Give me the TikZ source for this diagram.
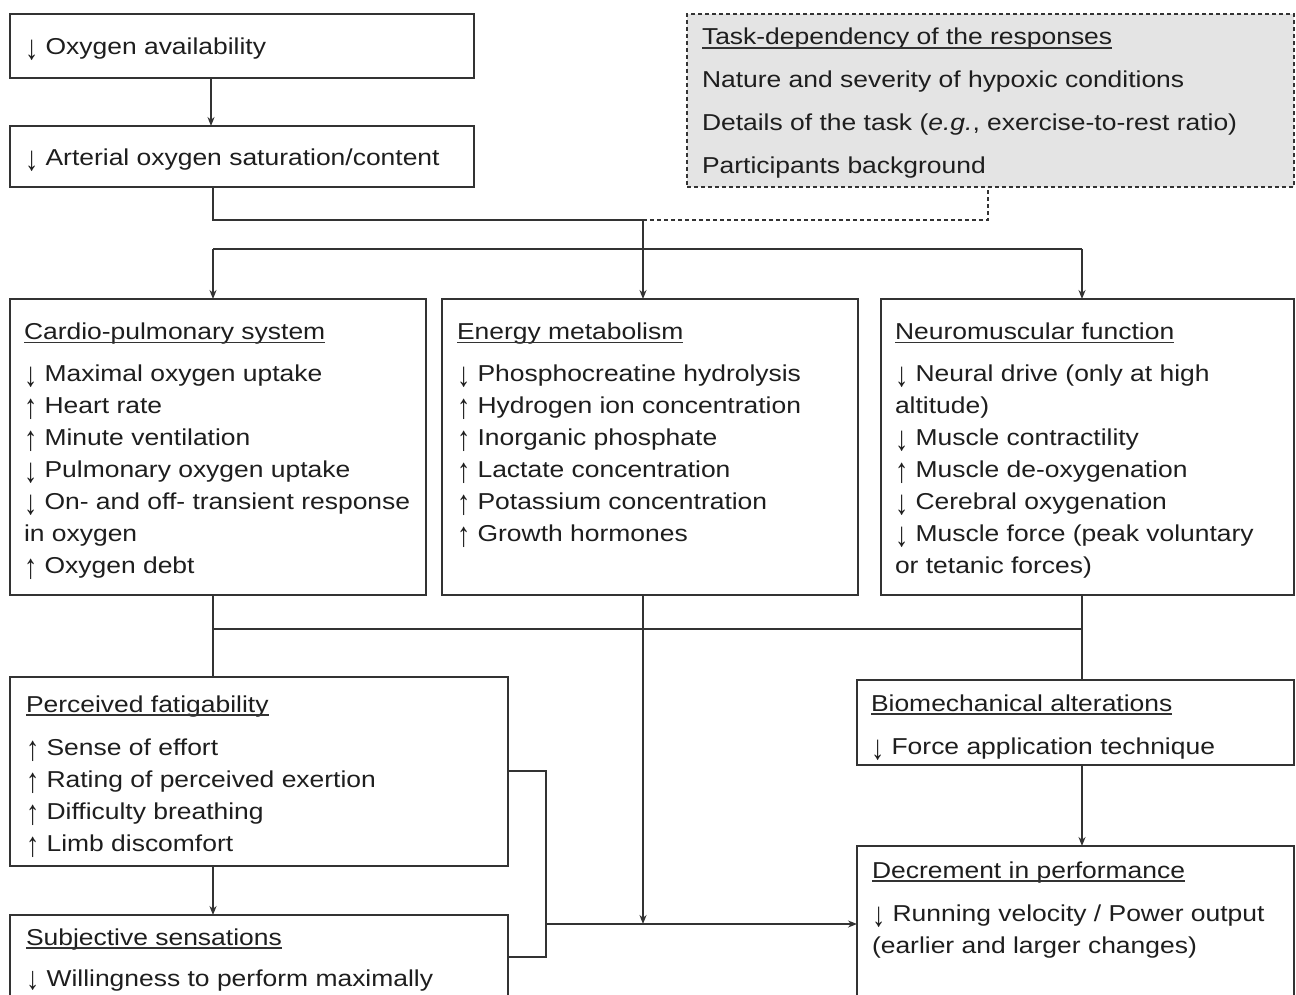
\documentclass[tikz,border=0pt]{standalone}
\usepackage{fontspec}
\usepackage{graphicx}
\setmainfont[FakeStretch=1.15]{Liberation Sans}
\usetikzlibrary{arrows.meta}
\definecolor{lc}{HTML}{333333}
\definecolor{tc}{HTML}{1E1E1E}
\definecolor{gfill}{HTML}{E4E4E4}
\newcommand\tfont{\fontsize{23}{28}\selectfont}
\newcommand\da{\raisebox{-5pt}{\scalebox{1}[1.5]{↓}}}
\newcommand\ua{\raisebox{-5pt}{\scalebox{1}[1.5]{↑}}}
\newcommand\boxlines[4]{%
  \foreach \t [count=\i] in {#4} {\node[txt, name=#1\i] at (#2, #3+32*\i-32) {\t};}}
\tikzset{
  box/.style={draw=lc, line width=1.6pt, anchor=north west, inner sep=0pt, outer sep=0pt, fill=white},
  dbox/.style={box, fill=gfill, dash pattern=on 4pt off 3pt},
  txt/.style={anchor=base west, inner sep=0pt, outer sep=0pt, font=\tfont, text=tc},
  conn/.style={draw=lc, line width=1.6pt},
  arr/.style={conn, -{Stealth[length=9pt,width=7pt]}},
  ul/.style={draw=lc, line width=1.3pt},
}
\begin{document}
\begin{tikzpicture}[x=1pt,y=-1pt]
\useasboundingbox (0,0) rectangle (1296,995);
\clip (0,0) rectangle (1296,995);
% boxes
\node[box, minimum width=464pt, minimum height=64pt] (ox) at (10,14) {};
\node[box, minimum width=464pt, minimum height=61pt] (art) at (10,126) {};
\node[dbox, minimum width=607pt, minimum height=173pt] (task) at (687,14) {};
\node[box, minimum width=416pt, minimum height=296pt] (cp) at (10,299) {};
\node[box, minimum width=416pt, minimum height=296pt] (em) at (442,299) {};
\node[box, minimum width=413pt, minimum height=296pt] (nm) at (881,299) {};
\node[box, minimum width=498pt, minimum height=189pt] (pf) at (10,677) {};
\node[box, minimum width=498pt, minimum height=110pt] (ss) at (10,915) {};
\node[box, minimum width=437pt, minimum height=85pt] (bm) at (857,680) {};
\node[box, minimum width=437pt, minimum height=170pt] (dp) at (857,846) {};
% texts
\node[txt] (oxt) at (25,55) {\da{} Oxygen availability};
\node[txt] (artt) at (25,166) {\da{} Arterial oxygen saturation/content};
\node[txt] (taskh) at (702,45) {Task-dependency of the responses};
\node[txt] (task1) at (702,88) {Nature and severity of hypoxic conditions};
\node[txt] (task2) at (702,131) {Details of the task (\textit{e.g.}, exercise-to-rest ratio)};
\node[txt] (task3) at (702,174) {Participants background};
\node[txt] (cph) at (24,339.5) {Cardio-pulmonary system};
\boxlines{cpl}{24}{381.7}{\da{} Maximal oxygen uptake, \ua{} Heart rate, \ua{} Minute ventilation, \da{} Pulmonary oxygen uptake, \da{} On- and off- transient response, in oxygen, \ua{} Oxygen debt}
\node[txt] (emh) at (457,339.5) {Energy metabolism};
\boxlines{eml}{457}{381.7}{\da{} Phosphocreatine hydrolysis, \ua{} Hydrogen ion concentration, \ua{} Inorganic phosphate, \ua{} Lactate concentration, \ua{} Potassium concentration, \ua{} Growth hormones}
\node[txt] (nmh) at (895,339.5) {Neuromuscular function};
\boxlines{nml}{895}{381.7}{\da{} Neural drive (only at high, altitude), \da{} Muscle contractility, \ua{} Muscle de-oxygenation, \da{} Cerebral oxygenation, \da{} Muscle force (peak voluntary, or tetanic forces)}
\node[txt] (pfh) at (26,712) {Perceived fatigability};
\boxlines{pfl}{26}{755}{\ua{} Sense of effort, \ua{} Rating of perceived exertion, \ua{} Difficulty breathing, \ua{} Limb discomfort}
\node[txt] (ssh) at (26,945) {Subjective sensations};
\node[txt] (ssl) at (26,986) {\raisebox{-3pt}{\scalebox{1}[1.4]{↓}}{} Willingness to perform maximally};
\node[txt] (bmh) at (871,711) {Biomechanical alterations};
\node[txt] (bml) at (871,754) {\da{} Force application technique};
\node[txt] (dph) at (872,878) {Decrement in performance};
\node[txt] (dpl1) at (872,921.7) {\da{} Running velocity / Power output};
\node[txt] (dpl2) at (872,953.3) {(earlier and larger changes)};
% underlines
\foreach \h in {taskh,cph,emh,nmh,pfh,ssh,bmh,dph}
  \draw[ul] ([yshift=-3pt]\h.base west) -- ([yshift=-3pt]\h.base east);
% connector coordinates
\coordinate (a1) at (211,0);
\coordinate (j1) at (213,220);
\coordinate (jm) at (643,220);
\coordinate (jd) at (988,220);
\coordinate (h1) at (213,249);
\coordinate (h2) at (1082,249);
\coordinate (l1) at (213,629);
\coordinate (l2) at (1082,629);
\coordinate (b1) at (546,771);
\coordinate (b2) at (546,957);
\coordinate (b3) at (546,924);
\coordinate (m1) at (643,924);
% connectors
\draw[arr] (ox.south -| a1) -- (art.north -| a1);
\draw[conn] (art.south -| j1) -- (j1) -- (jm);
\draw[conn, dash pattern=on 4pt off 3pt] (jm) -- (jd) -- (task.south -| jd);
\draw[arr] (jm) -- (em.north -| jm);
\draw[conn] (h1) -- (h2);
\draw[arr] (h1) -- (cp.north -| h1);
\draw[arr] (h2) -- (nm.north -| h2);
\draw[conn] (cp.south -| l1) -- (pf.north -| l1);
\draw[conn] (nm.south -| l2) -- (bm.north -| l2);
\draw[conn] (l1) -- (l2);
\draw[arr] (em.south -| m1) -- (m1);
\draw[arr] (pf.south -| l1) -- (ss.north -| l1);
\draw[conn] (pf.east |- b1) -- (b1) -- (b2) -- (ss.east |- b2);
\draw[arr] (b3) -- (dp.west |- b3);
\draw[arr] (bm.south -| l2) -- (dp.north -| l2);
\end{tikzpicture}
\end{document}
